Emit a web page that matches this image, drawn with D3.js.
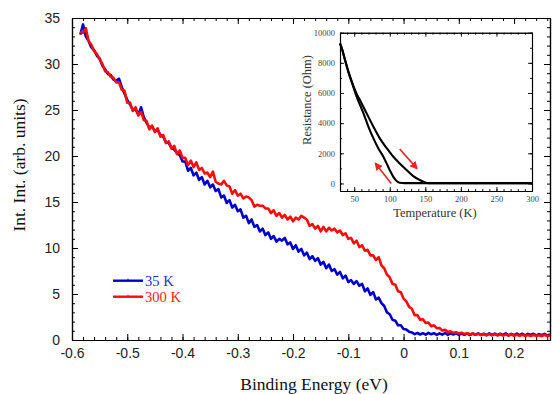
<!DOCTYPE html>
<html>
<head>
<meta charset="utf-8">
<script src="https://cdn.jsdelivr.net/npm/d3@7/dist/d3.min.js"></script>
<style>
  html, body { margin: 0; padding: 0; background: #fff; }
  svg { display: block; }
</style>
</head>
<body>
<svg id="chart" width="552" height="394"></svg>
<script>
// Photoemission spectra: energy grid start and spacing (eV)
const energyStart = -0.585;
const energyStep = 0.005;

// Integrated intensity at 35 K (arb. units), one value per grid point
const int35K = [
  33.2, 34.3, 33.0, 32.5, 31.8, 31.5, 30.9, 30.6, 29.8, 29.4,
  28.9, 28.8, 28.3, 28.2, 28.4, 27.5, 26.8, 26.1, 25.6, 25.0,
  25.1, 24.5, 25.3, 24.2, 23.6, 23.1, 23.2, 22.7, 22.8, 22.3,
  22.1, 21.5, 21.4, 20.9, 20.7, 20.3, 20.1, 19.4, 19.4, 18.4,
  18.7, 17.9, 18.2, 17.4, 17.7, 16.9, 17.3, 16.6, 16.9, 16.2,
  16.4, 15.5, 15.7, 14.9, 15.2, 14.4, 14.7, 14.0, 14.2, 13.3,
  13.5, 12.7, 13.1, 12.3, 12.5, 11.8, 12.1, 11.4, 11.7, 11.0,
  11.3, 10.7, 11.0, 10.8, 11.1, 10.4, 10.6, 9.9, 10.3, 9.6,
  9.9, 9.2, 9.5, 8.8, 9.1, 8.6, 8.9, 8.2, 8.5, 7.8,
  8.2, 7.5, 7.7, 7.1, 7.4, 6.7, 7.0, 6.3, 6.5, 6.1,
  6.4, 5.9, 6.1, 5.3, 5.6, 4.9, 5.2, 4.4, 4.6, 4.0,
  3.7, 3.0, 2.8, 2.2, 2.1, 1.6, 1.6, 1.2, 1.15, 0.9,
  0.82, 0.64, 0.76, 0.6, 0.74, 0.58, 0.78, 0.62, 0.74, 0.56,
  0.72, 0.58, 0.76, 0.56, 0.72, 0.6, 0.75, 0.55, 0.7, 0.56,
  0.72, 0.54, 0.7, 0.57, 0.72, 0.55, 0.68, 0.52, 0.72, 0.55,
  0.7, 0.52, 0.68, 0.55, 0.72, 0.5, 0.66, 0.54, 0.7, 0.52,
  0.68, 0.5, 0.66, 0.54, 0.68, 0.5, 0.64, 0.52, 0.66, 0.5,
  0.6
];

// Integrated intensity at 300 K (arb. units)
const int300K = [
  33.5, 33.4, 33.9, 32.5, 32.1, 31.4, 31.1, 30.5, 30.0, 29.2,
  29.1, 28.6, 28.5, 28.0, 28.0, 27.2, 27.1, 25.8, 25.8, 24.9,
  25.3, 24.4, 24.8, 23.9, 23.8, 22.9, 23.3, 22.6, 23.0, 22.1,
  22.3, 21.4, 21.6, 20.8, 21.1, 20.2, 20.6, 19.8, 19.8, 19.0,
  19.5, 18.8, 19.3, 18.5, 18.7, 18.1, 18.2, 17.7, 18.3, 17.2,
  17.0, 16.9, 17.3, 16.8, 16.7, 15.9, 16.3, 15.7, 15.9, 15.4,
  15.6, 15.5, 15.2, 14.5, 14.7, 14.6, 14.6, 14.3, 14.3, 13.8,
  14.1, 13.5, 13.8, 13.3, 13.6, 13.1, 13.4, 12.9, 13.3, 13.1,
  13.5, 13.3, 13.1, 12.4, 12.6, 12.1, 12.4, 11.8, 12.3, 11.8,
  12.2, 11.9, 12.1, 11.7, 11.9, 11.4, 11.6, 11.0, 11.1, 10.5,
  10.8, 10.1, 10.3, 9.7, 9.8, 9.2, 9.2, 8.7, 9.0, 8.1,
  7.8, 7.1, 6.8, 6.1, 6.0, 5.3, 5.2, 4.5, 4.2, 3.6,
  3.4, 2.7, 2.7, 2.2, 2.25, 1.85, 1.9, 1.5, 1.6, 1.28,
  1.3, 1.02, 1.1, 0.88, 0.95, 0.78, 0.85, 0.72, 0.8, 0.66,
  0.74, 0.62, 0.7, 0.58, 0.68, 0.55, 0.66, 0.52, 0.64, 0.5,
  0.65, 0.5, 0.62, 0.48, 0.6, 0.47, 0.6, 0.46, 0.56, 0.45,
  0.56, 0.44, 0.55, 0.42, 0.54, 0.45, 0.52, 0.42, 0.55, 0.43,
  0.5
];

const seriesNames = ["35 K", "300 K"];
const seriesColors = ["#0000cc", "#ff0a0a"];

// Main axis ticks
const energyTicks = [-0.6, -0.5, -0.4, -0.3, -0.2, -0.1, 0, 0.1, 0.2];
const intensityTicks = [0, 5, 10, 15, 20, 25, 30, 35];

// Inset: resistance vs temperature, warming and cooling branches
const tempWarming = [30, 33, 37, 42, 47, 53, 58, 67.5, 77, 86, 96, 105, 114, 124, 133, 142.5, 149.5, 154, 200, 250, 300];
const resWarming  = [9300, 8900, 8200, 7400, 6700, 5980, 5530, 4650, 3760, 2990, 2320, 1770, 1330, 880, 490, 220, 70, 20, 20, 20, 20];
const tempCooling = [30, 33, 37, 42, 47, 53.5, 63, 70, 77, 84, 91, 95.5, 100, 105, 110, 114, 121, 130, 200, 300];
const resCooling  = [9300, 8900, 8200, 7350, 6650, 5750, 4650, 3760, 2990, 2320, 1770, 1330, 880, 440, 150, 50, 20, 20, 20, 20];
const tempTicks = [50, 100, 150, 200, 250, 300];
const resTicks = [0, 2000, 4000, 6000, 8000, 10000];

// Direction arrows along the branches: [T0, R0, T1, R1]
const arrowWarming = [114, 2280, 138, 1000];
const arrowCooling = [102, 0, 80, 1330];

const svg = d3.select("#chart");

// ---------- main panel ----------
const x = d3.scaleLinear().domain([-0.6, 0.265]).range([72, 550]);
const y = d3.scaleLinear().domain([0, 35]).range([340, 18]);

const fmtE = d => (d === 0 ? "0" : d.toFixed(1));

function styleAxis(g) {
  g.selectAll("path.domain").attr("stroke", "#000").attr("stroke-width", 1.2);
  g.selectAll(".tick line").attr("stroke", "#000").attr("stroke-width", 1);
  g.selectAll("text").attr("font-family", "'Liberation Sans', Arial, sans-serif")
    .attr("font-size", 14).attr("fill", "#222");
}

const minorE = d3.range(-0.6, 0.2651, 0.02).map(v => +v.toFixed(3));
const minorI = d3.range(0, 35.01, 1);

// minor ticks
svg.append("g").attr("transform", "translate(0,340)")
  .call(d3.axisBottom(x).tickValues(minorE).tickSize(-3).tickSizeOuter(0).tickFormat(""))
  .call(styleAxis);
svg.append("g").attr("transform", "translate(0,18)")
  .call(d3.axisTop(x).tickValues(minorE).tickSize(-3).tickSizeOuter(0).tickFormat(""))
  .call(styleAxis);
svg.append("g").attr("transform", "translate(72,0)")
  .call(d3.axisLeft(y).tickValues(minorI).tickSize(-3).tickSizeOuter(0).tickFormat(""))
  .call(styleAxis);
svg.append("g").attr("transform", "translate(550,0)")
  .call(d3.axisRight(y).tickValues(minorI).tickSize(-3).tickSizeOuter(0).tickFormat(""))
  .call(styleAxis);

// major ticks + labels
svg.append("g").attr("transform", "translate(0,340)")
  .call(d3.axisBottom(x).tickValues(energyTicks).tickSize(-6).tickSizeOuter(0).tickPadding(8).tickFormat(fmtE))
  .call(styleAxis);
svg.append("g").attr("transform", "translate(0,18)")
  .call(d3.axisTop(x).tickValues(energyTicks).tickSize(-6).tickSizeOuter(0).tickFormat(""))
  .call(styleAxis);
svg.append("g").attr("transform", "translate(72,0)")
  .call(d3.axisLeft(y).tickValues(intensityTicks).tickSize(-6).tickSizeOuter(0).tickPadding(12).tickFormat(d3.format("d")))
  .call(styleAxis);
svg.append("g").attr("transform", "translate(550,0)")
  .call(d3.axisRight(y).tickValues(intensityTicks).tickSize(-6).tickSizeOuter(0).tickFormat(""))
  .call(styleAxis);

// spectra
const spectra = [int35K, int300K];
const line = d3.line()
  .x((d, i) => x(energyStart + i * energyStep))
  .y(d => y(d));
spectra.forEach((vals, k) => {
  svg.append("path")
    .datum(vals)
    .attr("fill", "none")
    .attr("stroke", seriesColors[k])
    .attr("stroke-width", 2.6)
    .attr("stroke-linejoin", "round")
    .attr("d", line);
});

// axis titles
svg.append("text")
  .attr("x", 314).attr("y", 390)
  .attr("text-anchor", "middle")
  .attr("font-family", "'Liberation Serif', 'Times New Roman', serif")
  .attr("font-size", 17.5).attr("fill", "#111")
  .text("Binding Energy (eV)");
svg.append("text")
  .attr("transform", "translate(25,165) rotate(-90)")
  .attr("text-anchor", "middle")
  .attr("font-family", "'Liberation Serif', 'Times New Roman', serif")
  .attr("font-size", 17.5).attr("fill", "#111")
  .text("Int. Int. (arb. units)");

// legend
const legendY = [280.7, 296.7];
seriesNames.forEach((name, k) => {
  const g = svg.append("g");
  g.append("line")
    .attr("x1", 113).attr("x2", 143).attr("y1", legendY[k]).attr("y2", legendY[k])
    .attr("stroke", seriesColors[k]).attr("stroke-width", 2.4);
  g.append("line")
    .attr("x1", 128).attr("x2", 128).attr("y1", legendY[k] - 2).attr("y2", legendY[k])
    .attr("stroke", seriesColors[k]).attr("stroke-width", 1);
  g.append("text")
    .attr("x", 145).attr("y", legendY[k] + 5)
    .attr("font-family", "'Liberation Serif', 'Times New Roman', serif")
    .attr("font-size", 14.5)
    .attr("fill", k === 0 ? "#2a2ad8" : "#ff1a1a")
    .text(name);
});

// ---------- inset ----------
const ix = d3.scaleLinear().domain([30, 300]).range([340, 532]);
const iy = d3.scaleLinear().domain([-500, 10000]).range([191, 32.7]);

function styleInset(g) {
  g.selectAll("path.domain").attr("stroke", "#000").attr("stroke-width", 1.1);
  g.selectAll(".tick line").attr("stroke", "#000").attr("stroke-width", 0.9);
  g.selectAll("text").attr("font-family", "'Liberation Serif', 'Times New Roman', serif")
    .attr("font-size", 8.5).attr("fill", "#444");
}

const inset = svg.append("g");
inset.append("rect")
  .attr("x", 340).attr("y", 32.7).attr("width", 192).attr("height", 158.3)
  .attr("fill", "#fff");

const minorT = d3.range(30, 300.1, 10);
const minorR = d3.range(0, 10000.1, 1000);

inset.append("g").attr("transform", "translate(0,191)")
  .call(d3.axisBottom(ix).tickValues(minorT).tickSize(-2).tickSizeOuter(0).tickFormat(""))
  .call(styleInset);
inset.append("g").attr("transform", "translate(0,32.7)")
  .call(d3.axisTop(ix).tickValues(minorT).tickSize(-2).tickSizeOuter(0).tickFormat(""))
  .call(styleInset);
inset.append("g").attr("transform", "translate(340,0)")
  .call(d3.axisLeft(iy).tickValues(minorR).tickSize(-2).tickSizeOuter(0).tickFormat(""))
  .call(styleInset);
inset.append("g").attr("transform", "translate(532,0)")
  .call(d3.axisRight(iy).tickValues(minorR).tickSize(-2).tickSizeOuter(0).tickFormat(""))
  .call(styleInset);

inset.append("g").attr("transform", "translate(0,191)")
  .call(d3.axisBottom(ix).tickValues(tempTicks).tickSize(-4).tickSizeOuter(0).tickPadding(5).tickFormat(d3.format("d")))
  .call(styleInset);
inset.append("g").attr("transform", "translate(0,32.7)")
  .call(d3.axisTop(ix).tickValues(tempTicks).tickSize(-4).tickSizeOuter(0).tickFormat(""))
  .call(styleInset);
inset.append("g").attr("transform", "translate(340,0)")
  .call(d3.axisLeft(iy).tickValues(resTicks).tickSize(-4).tickSizeOuter(0).tickPadding(5).tickFormat(d3.format("d")))
  .call(styleInset);
inset.append("g").attr("transform", "translate(532,0)")
  .call(d3.axisRight(iy).tickValues(resTicks).tickSize(-4).tickSizeOuter(0).tickFormat(""))
  .call(styleInset);

const rLine = d3.line()
  .x(d => ix(d[0]))
  .y(d => iy(d[1]))
  .curve(d3.curveMonotoneX);
[[tempWarming, resWarming], [tempCooling, resCooling]].forEach(([ts, rs]) => {
  inset.append("path")
    .datum(ts.map((t, i) => [t, rs[i]]))
    .attr("fill", "none")
    .attr("stroke", "#000")
    .attr("stroke-width", 2.1)
    .attr("d", rLine);
});

// arrows
svg.append("defs").append("marker")
  .attr("id", "arrowhead")
  .attr("viewBox", "0 0 10 10")
  .attr("refX", 8).attr("refY", 5)
  .attr("markerWidth", 5).attr("markerHeight", 5)
  .attr("orient", "auto")
  .append("path").attr("d", "M0,0 L10,5 L0,10 z").attr("fill", "#e8251e");
[arrowWarming, arrowCooling].forEach(a => {
  inset.append("line")
    .attr("x1", ix(a[0])).attr("y1", iy(a[1]))
    .attr("x2", ix(a[2])).attr("y2", iy(a[3]))
    .attr("stroke", "#e8251e").attr("stroke-width", 1.6)
    .attr("marker-end", "url(#arrowhead)");
});

inset.append("text")
  .attr("x", 435).attr("y", 216.5)
  .attr("text-anchor", "middle")
  .attr("font-family", "'Liberation Serif', 'Times New Roman', serif")
  .attr("font-size", 12.5).attr("fill", "#333")
  .text("Temperature (K)");
inset.append("text")
  .attr("transform", "translate(311,100) rotate(-90)")
  .attr("text-anchor", "middle")
  .attr("font-family", "'Liberation Serif', 'Times New Roman', serif")
  .attr("font-size", 12.5).attr("fill", "#333")
  .text("Resistance (Ohm)");
</script>
</body>
</html>
